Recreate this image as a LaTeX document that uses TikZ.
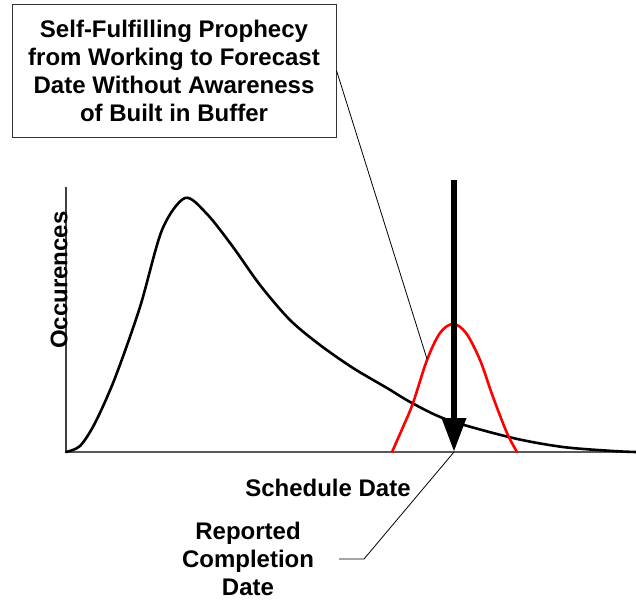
\documentclass[tikz,border=0pt]{standalone}
\usepackage{fontspec}
\setmainfont{Liberation Sans}
\usetikzlibrary{arrows.meta}
\begin{document}
\begin{tikzpicture}[x=1pt,y=-1pt,
  lbl/.style={font=\fontsize{24}{28}\selectfont\bfseries, align=center, inner sep=2pt},
  leader/.style={draw=black, line width=0.8pt},
  curve/.style={line width=2.6pt, line join=round, line cap=round}]
\useasboundingbox (0,0) rectangle (636,600);
% axes
\coordinate (O) at (66,452);
\coordinate (Ytop) at (66,187);
\coordinate (Xend) at (636,452);
\draw[line width=1.2pt, draw=black!75] (Ytop) -- (O);
\draw[line width=2pt, draw=black!65] (O) -- (Xend);
% title box
\node[lbl, draw=black!80, line width=1pt, minimum width=324pt, minimum height=133pt] (box) at (174,70.5)
  {Self-Fulfilling Prophecy\\from Working to Forecast\\Date Without Awareness\\of Built in Buffer};
% black distribution
\draw[curve, black] plot[smooth, tension=0.5] coordinates {
 (66,452) (80,446) (95,423) (115,378) (140,307) (162,230) (185,198)
 (207,214) (233,247) (260,285) (290,320) (320,345) (353,368) (387,388)
 (412,403) (448,420) (513,438) (563,447) (613,451) (636,452)};
% red distribution
\draw[curve, red] plot[smooth, tension=0.55] coordinates {
 (392,452) (403,427) (413,403) (427,360) (440,333) (453,324) (466,333) (480,360)
 (493,397) (507,433) (517,452)};
% thick arrow
\coordinate (Atop) at (454,180);
\coordinate (Atip) at (454,452);
\draw[line width=6.5pt, -{Triangle[length=34pt,width=23pt]}] (Atop) -- (Atip);
% leader from box
\coordinate (Rpt) at (427,359);
\draw[leader] (box.east) -- (Rpt);
% labels
\node[lbl] (sched) at (328,488) {Schedule Date};
\node[lbl] (rep) at (248,559) {Reported\\Completion\\Date};
\node[lbl, rotate=90] (occ) at (59,280) {Occurences};
% leader from reported
\coordinate (bend) at (364,559);
\draw[leader] ([xshift=23pt]rep.east) -- (bend) -- (Atip);
\end{tikzpicture}
\end{document}
